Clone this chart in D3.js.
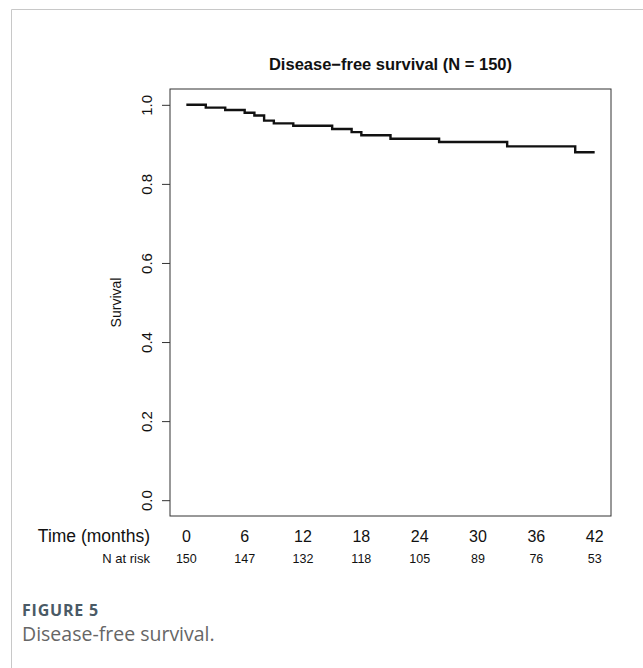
<!DOCTYPE html>
<html><head><meta charset="utf-8">
<script src="https://cdn.jsdelivr.net/npm/d3@7"></script>
<style>body{margin:0;background:#fff}svg{display:block}</style>
</head><body>
<script>
// Kaplan-Meier step curve (time in months, survival)
const times    = [0, 2, 4, 6, 7, 8, 9, 11, 15, 17, 18, 21, 26, 33, 40, 42];
const survival = [1.0, 0.993, 0.987, 0.980, 0.973, 0.960, 0.953, 0.947, 0.939, 0.931, 0.923, 0.914, 0.906, 0.895, 0.880, 0.880];
const xTicks   = [0, 6, 12, 18, 24, 30, 36, 42];
const nAtRisk  = [150, 147, 132, 118, 105, 89, 76, 53];
const yTicks   = [0, 0.2, 0.4, 0.6, 0.8, 1.0];

const W = 643, H = 668;
const svg = d3.select("body").append("svg").attr("width", W).attr("height", H);
const box = {l:170, r:611, t:89, b:516};
const f = "Liberation Sans, Arial, sans-serif";

// frame of the figure panel
svg.append("line").attr("x1",11.5).attr("x2",W).attr("y1",9.5).attr("y2",9.5).attr("stroke","#c8c8c8");
svg.append("line").attr("x1",11.5).attr("x2",11.5).attr("y1",9.5).attr("y2",H).attr("stroke","#c8c8c8");

// R-style 4% range extension
const x = d3.scaleLinear().domain([0 - 42*0.04, 42 + 42*0.04]).range([box.l, box.r]);
const y = d3.scaleLinear().domain([-0.04, 1.04]).range([box.b, box.t]);

svg.append("rect").attr("x",box.l).attr("y",box.t).attr("width",box.r-box.l).attr("height",box.b-box.t)
  .attr("fill","none").attr("stroke","#333").attr("stroke-width",1);

// y axis
const ya = svg.append("g").attr("transform",`translate(${box.l},0)`)
  .call(d3.axisLeft(y).tickValues(yTicks).tickSize(8).tickFormat(d3.format(".1f")));
ya.select(".domain").remove();
ya.selectAll(".tick line").attr("stroke","#333");
ya.selectAll(".tick text").attr("font-family",f).attr("font-size",15)
  .attr("fill","#111").attr("x",0).attr("dy",0).attr("text-anchor","middle")
  .attr("transform","translate(-24,0) rotate(-90)").attr("dominant-baseline","central");

svg.append("text").attr("transform",`translate(116,${(box.t+box.b)/2}) rotate(-90)`)
  .attr("text-anchor","middle").attr("dominant-baseline","central")
  .attr("font-family",f).attr("font-size",14).attr("fill","#111").text("Survival");

// title
svg.append("text").attr("x",(box.l+box.r)/2).attr("y",70).attr("text-anchor","middle")
  .attr("font-family",f).attr("font-weight","bold").attr("font-size",16.5)
  .attr("fill","#111").text("Disease\u2212free survival (N = 150)");

// curve
const line = d3.line().x((d,i)=>x(times[i])).y((d,i)=>y(survival[i])).curve(d3.curveStepAfter);
svg.append("path").datum(survival).attr("d",line).attr("fill","none").attr("stroke","#111").attr("stroke-width",2.4);

// time labels row
svg.append("text").attr("x",150).attr("y",542).attr("text-anchor","end").attr("font-family",f)
  .attr("font-size",17.5).attr("fill","#111").text("Time (months)");
svg.selectAll("text.xt").data(xTicks).join("text").attr("class","xt")
  .attr("x",d=>x(d)).attr("y",542).attr("text-anchor","middle").attr("font-family",f)
  .attr("font-size",16).attr("fill","#111").text(d=>d);

// N at risk row
svg.append("text").attr("x",150).attr("y",563).attr("text-anchor","end").attr("font-family",f)
  .attr("font-size",13).attr("fill","#111").text("N at risk");
svg.selectAll("text.nr").data(nAtRisk).join("text").attr("class","nr")
  .attr("x",(d,i)=>x(xTicks[i])).attr("y",563).attr("text-anchor","middle").attr("font-family",f)
  .attr("font-size",12.5).attr("fill","#111").text(d=>d);

// caption
svg.append("text").attr("x",22).attr("y",616).attr("font-family","Open Sans, sans-serif")
  .attr("font-weight","bold").attr("font-size",16).attr("fill","#4a5a66").attr("letter-spacing",0.8).text("FIGURE 5");
svg.append("text").attr("x",22).attr("y",641).attr("font-family","Open Sans, sans-serif")
  .attr("font-size",19.5).attr("fill","#666").text("Disease-free survival.");
</script>
</body></html>
